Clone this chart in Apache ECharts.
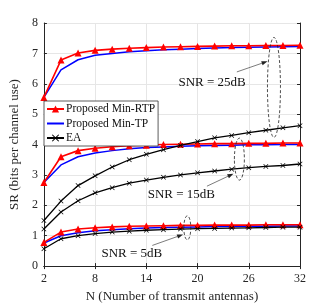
<!DOCTYPE html>
<html><head><meta charset="utf-8">
<script src="https://cdn.jsdelivr.net/npm/echarts@6/dist/echarts.min.js"></script>
<style>html,body{margin:0;padding:0;background:#fff}#c{width:332px;height:308px}</style>
</head><body><div id="c"></div>
<script>
const N = [2,4,6,8,10,12,14,16,18,20,22,24,26,28,30,32];
const xTicks = [2,8,14,20,26,32];
// SNR = 25 dB
const rtp25 = [5.55,6.78,7.01,7.1,7.14,7.17,7.19,7.21,7.22,7.23,7.24,7.25,7.25,7.26,7.26,7.27];
const tp25  = [5.55,6.46,6.79,6.94,7.0,7.05,7.09,7.12,7.14,7.16,7.18,7.19,7.2,7.21,7.22,7.23];
const ea25  = [1.5,2.14,2.65,2.97,3.26,3.5,3.68,3.83,3.97,4.1,4.22,4.3,4.39,4.47,4.55,4.62];
// SNR = 15 dB
const rtp15 = [2.75,3.6,3.8,3.88,3.93,3.96,3.98,4.0,4.01,4.02,4.03,4.03,4.04,4.04,4.05,4.05];
const tp15  = [2.75,3.33,3.6,3.72,3.8,3.86,3.9,3.92,3.94,3.96,3.97,3.98,3.99,3.99,4.0,4.0];
const ea15  = [1.22,1.78,2.15,2.41,2.58,2.73,2.83,2.92,3.0,3.07,3.13,3.19,3.24,3.28,3.31,3.36];
// SNR = 5 dB
const rtp5 = [0.78,1.12,1.22,1.26,1.29,1.31,1.32,1.33,1.34,1.34,1.35,1.35,1.35,1.36,1.36,1.36];
const tp5  = [0.76,1.0,1.1,1.16,1.2,1.23,1.25,1.27,1.28,1.29,1.3,1.3,1.31,1.31,1.32,1.32];
const ea5  = [0.57,0.9,1.0,1.07,1.12,1.15,1.18,1.2,1.22,1.23,1.24,1.25,1.26,1.27,1.28,1.28];

const legendNames = ['Proposed Min-RTP','Proposed Min-TP','EA'];
const labels = [
  {text:'SNR = 25dB', at:[21.7,6.03], ell:[28.95,5.88,6.5,50], from:[24.6,6.39], to:[28.2,6.74]},
  {text:'SNR = 15dB', at:[18.1,2.37], ell:[24.9,3.52,5,21], from:[21.1,2.63], to:[24.2,3.04]},
  {text:'SNR = 5dB',  at:[12.3,0.40], ell:[18.8,1.26,3.5,12], from:[14.7,0.68], to:[18.3,1.04]}
];

const FONT = '"Liberation Serif","DejaVu Serif",serif';
const AX = '#262626';
const xMark = 'path://M1 0 L5 4 L9 0 L10 1 L6 5 L10 9 L9 10 L5 6 L1 10 L0 9 L4 5 L0 1 Z';

function pairs(ys){ return N.map((n,i)=>[n, ys[i]]); }
function rtpSeries(ys){
  return {name:legendNames[0], type:'line', data:pairs(ys), symbol:'triangle', symbolSize:7,
    lineStyle:{color:'#ff0000', width:1.6}, itemStyle:{color:'#ff0000'}, z:3, animation:false};
}
function tpSeries(ys){
  return {name:legendNames[1], type:'line', data:pairs(ys), symbol:'none', showSymbol:false,
    lineStyle:{color:'#0000ff', width:1.5}, itemStyle:{color:'#0000ff'}, z:2, animation:false};
}
function eaSeries(ys){
  return {name:legendNames[2], type:'line', data:pairs(ys), symbol:xMark, symbolSize:5,
    lineStyle:{color:'#000', width:1.3}, itemStyle:{color:'#000'}, z:4, animation:false};
}

const chart = echarts.init(document.getElementById('c'), null, {renderer:'canvas'});
chart.setOption({
  animation:false,
  backgroundColor:'#fff',
  grid:{left:43, right:32, top:23, bottom:34, containLabel:false},
  legend:{
    data:[
      {name:legendNames[0]},
      {name:legendNames[1], itemStyle:{opacity:0}},
      {name:legendNames[2]}
    ],
    orient:'vertical', left:44, top:101,
    backgroundColor:'#fff', borderColor:'#333', borderWidth:0.8, borderRadius:0,
    padding:[2,3,2,2], itemGap:2.5, itemWidth:17, itemHeight:9,
    textStyle:{fontFamily:FONT, fontSize:11.5, color:'#111', padding:[0,0,0,-3]}
  },
  xAxis:[{
    type:'value', min:2, max:32,
    axisLine:{show:true, lineStyle:{color:AX, width:1}},
    axisTick:{show:true, inside:true, length:3, lineStyle:{color:AX}, customValues:xTicks},
    axisLabel:{customValues:xTicks, fontFamily:FONT, fontSize:12, color:AX, margin:7},
    splitLine:{show:true, lineStyle:{color:'#e6e6e6', width:1}},
    name:'N (Number of transmit antennas)', nameLocation:'middle', nameGap:22,
    nameTextStyle:{fontFamily:FONT, fontSize:13, color:AX}
  },{
    type:'value', min:2, max:32, position:'top',
    axisLine:{show:true, lineStyle:{color:AX}},
    axisTick:{show:true, inside:true, length:3, lineStyle:{color:AX}, customValues:xTicks},
    axisLabel:{show:false, customValues:xTicks}, splitLine:{show:false}
  }],
  yAxis:[{
    type:'value', min:0, max:8, interval:1,
    axisLine:{show:true, lineStyle:{color:AX, width:1}},
    axisTick:{show:true, inside:true, length:3, lineStyle:{color:AX}},
    axisLabel:{fontFamily:FONT, fontSize:12, color:AX, margin:6},
    splitLine:{show:true, lineStyle:{color:'#e6e6e6', width:1}},
    name:'SR (bits per channel use)', nameLocation:'middle', nameGap:21,
    nameTextStyle:{fontFamily:FONT, fontSize:13, color:AX}
  },{
    type:'value', min:0, max:8, interval:1, position:'right',
    axisLine:{show:true, lineStyle:{color:AX}},
    axisTick:{show:true, inside:true, length:3, lineStyle:{color:AX}},
    axisLabel:{show:false}, splitLine:{show:false}
  }],
  series:[
    rtpSeries(rtp25), tpSeries(tp25),
    rtpSeries(rtp15), tpSeries(tp15), eaSeries(ea25),
    rtpSeries(rtp5), tpSeries(tp5), eaSeries(ea15), eaSeries(ea5)
  ]
});

// annotations
const g = [];
labels.forEach(a=>{
  const t = chart.convertToPixel({gridIndex:0}, a.at);
  const c = chart.convertToPixel({gridIndex:0}, [a.ell[0], a.ell[1]]);
  const f = chart.convertToPixel({gridIndex:0}, a.from);
  const e = chart.convertToPixel({gridIndex:0}, a.to);
  g.push({type:'text', x:t[0], y:t[1], z:10, style:{text:a.text, fontFamily:FONT, fontSize:13, fill:'#111', align:'center', verticalAlign:'middle'}});
  g.push({type:'ellipse', z:10, shape:{cx:c[0], cy:c[1], rx:a.ell[2], ry:a.ell[3]},
    style:{fill:'none', stroke:'#222', lineWidth:0.8, lineDash:[3,2]}});
  const ang = Math.atan2(e[1]-f[1], e[0]-f[0]);
  const L = 6, W = 2.2;
  const bx = e[0]-L*Math.cos(ang), by = e[1]-L*Math.sin(ang);
  g.push({type:'line', z:10, shape:{x1:f[0], y1:f[1], x2:bx, y2:by}, style:{stroke:'#444', lineWidth:0.7}});
  g.push({type:'polygon', z:10, shape:{points:[[e[0],e[1]],[bx-W*Math.sin(ang), by+W*Math.cos(ang)],[bx+W*Math.sin(ang), by-W*Math.cos(ang)]]},
    style:{fill:'#222'}});
});
chart.setOption({graphic:g});
</script></body></html>
